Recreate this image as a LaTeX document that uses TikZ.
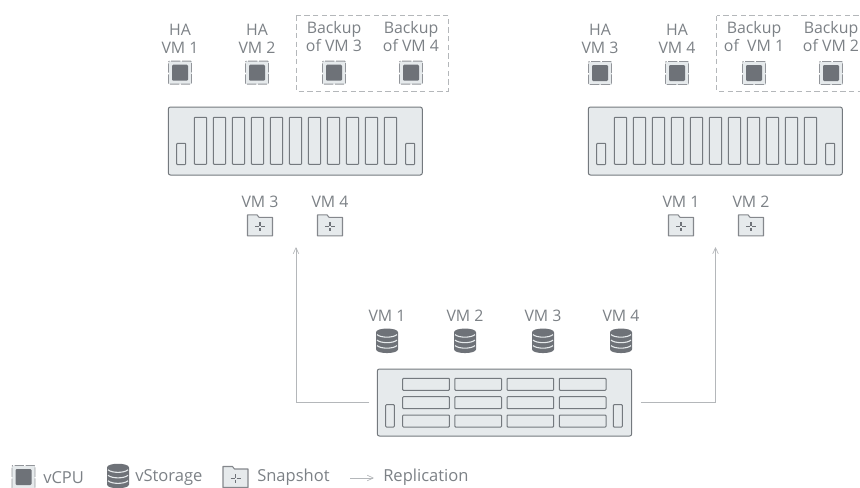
\documentclass[tikz,border=0pt]{standalone}
\usepackage{fontspec}
\setmainfont{Open Sans}
\usetikzlibrary{arrows.meta}
\definecolor{srvfill}{HTML}{E6EAEC}
\definecolor{srvline}{HTML}{74797E}
\definecolor{txt}{HTML}{7C8186}
\definecolor{dark}{HTML}{6E7278}
\definecolor{lite}{HTML}{B4B7BA}
\tikzset{
  x=0.75pt,y=-0.75pt,
  lbl/.style={text=txt,font=\fontsize{11.9pt}{13.5pt}\selectfont,align=center,inner sep=0pt,anchor=center},
  leg/.style={text=txt,font=\fontsize{12.4pt}{14pt}\selectfont,inner sep=0pt,anchor=west},
  srv/.style={draw=srvline,fill=srvfill,line width=0.75pt,rounded corners=1.6pt},
  slotbox/.style={draw=srvline,fill=srvfill,line width=0.75pt,rounded corners=0.6pt},
  repl/.style={draw=lite,line width=0.5pt,-{Straight Barb[length=4.5pt,width=6pt,angle'=50]}},
  pics/cpu/.style={code={
    \fill[srvfill] (-11.5,-11.5) rectangle (11.5,11.5);
    \draw[dark!75,line width=0.7pt,dash pattern=on 7pt off 1.2pt,dash phase=-1pt,rounded corners=0.6pt] (-11.5,-11.5) rectangle (11.5,11.5);
    \fill[dark,rounded corners=0.8pt] (-8,-8) rectangle (8,8);
  }},
  pics/db/.style={code={
    \fill[dark] (-11,-8.5) .. controls (-11,-13.5) and (11,-13.5) .. (11,-8.5) -- (11,8.5) .. controls (11,13.5) and (-11,13.5) .. (-11,8.5) -- cycle;
    \draw[srvfill,line width=0.8pt] (-10,-6.2) .. controls (-6,-2.8) and (6,-2.8) .. (10,-6.2);
    \draw[srvfill,line width=0.8pt] (-10,-0.7) .. controls (-6,2.7) and (6,2.7) .. (10,-0.7);
    \draw[srvfill,line width=0.8pt] (-10,4.8) .. controls (-6,8.2) and (6,8.2) .. (10,4.8);
  }},
  pics/folder/.style={code={
    \draw[draw=dark!85,fill=srvfill,line width=0.8pt,line join=round] (-12.5,-10.5) -- (-3,-10.5) -- (-1,-8) -- (12.5,-8) -- (12.5,10.5) -- (-12.5,10.5) -- cycle;
    \draw[dark,line width=0.9pt] (-5,1.5) -- (-1,1.5) (1,1.5) -- (5,1.5) (0,-3) -- (0,0.5) (0,2.5) -- (0,6);
  }},
  pics/blade/.style={code={
    \draw[srv] (0,0) rectangle (254,68);
    \draw[slotbox] (8.4,36.3) rectangle (17.4,57.6);
    \draw[slotbox] (237.4,36.3) rectangle (246.4,57.6);
    \foreach \i in {0,...,10}{
      \draw[slotbox] ({26+19*\i},10.3) rectangle ({38.4+19*\i},57.3);
    }
  }}
}
\begin{document}
\begin{tikzpicture}
\useasboundingbox (0,0) rectangle (860,487);
\clip (0,0) rectangle (860,487);

% dashed groups
\draw[lite,line width=0.55pt,dash pattern=on 4pt off 2.5pt] (296,15.5) rectangle (448.3,91);
\draw[lite,line width=0.55pt,dash pattern=on 4pt off 2.5pt] (716.5,15.5) rectangle (868,91);

% left host
\foreach \x/\t in {180/{HA\\VM 1},257/{HA\\VM 2}}{
  \node[lbl] at (\x,38.5) {\t};
  \pic at (\x,72.7) {cpu};
}
\foreach \x/\t in {334/{Backup\\of VM 3},411/{Backup\\of VM 4}}{
  \node[lbl] at (\x,37) {\t};
  \pic at (\x,72.7) {cpu};
}
\pic at (168.3,107) {blade};

% right host
\foreach \x/\t in {600/{HA\\VM 3},677/{HA\\VM 4}}{
  \node[lbl] at (\x,38.5) {\t};
  \pic at (\x,73) {cpu};
}
\foreach \x/\t in {754/{Backup\\of\ \ VM 1},831/{Backup\\of VM 2}}{
  \node[lbl] at (\x,37) {\t};
  \pic at (\x,73) {cpu};
}
\pic at (588.3,107) {blade};

% snapshots
\foreach \x/\t in {260/VM 3,330/VM 4,681/VM 1,751/VM 2}{
  \node[lbl] at (\x,202) {\t};
  \pic at (\x,225.3) {folder};
}

% storage
\node[srv,minimum width=190.8pt,minimum height=50.25pt,inner sep=0pt] (store) at (504.5,402.5) {};
\draw[slotbox] (385.7,404.7) rectangle (394.3,427);
\draw[slotbox] (613.3,404.7) rectangle (622.3,427);
\foreach \y in {378.3,396.7,415}{
  \foreach \x in {402.7,454.8,507,559.3}{
    \draw[slotbox] (\x,\y) rectangle ++(46.7,12);
  }
}
\foreach \x/\t in {387/VM 1,465/VM 2,543/VM 3,621/VM 4}{
  \node[lbl] at (\x,315.5) {\t};
  \pic at (\x,340.8) {db};
}

% replication
\coordinate (la) at (296,247);
\coordinate (ra) at (715.5,247);
\draw[repl] ([xshift=-5.5pt]store.west) -| (la);
\draw[repl] ([xshift=6.5pt]store.east) -| (ra);

% legend
\pic at (23.5,477) {cpu};
\node[leg] (lg1) at (43,477.5) {vCPU};
\pic at (118,476) {db};
\node[leg] (lg2) at (135,477.5) {vStorage};
\pic at (235.5,477) {folder};
\node[leg] (lg3) at (257,477.5) {Snapshot};
\node[leg] (lg4) at (383,477.5) {Replication};
\coordinate (ls) at (350,478);
\coordinate (le) at (374,478);
\draw[repl] (ls) -- (le);
\end{tikzpicture}
\end{document}
